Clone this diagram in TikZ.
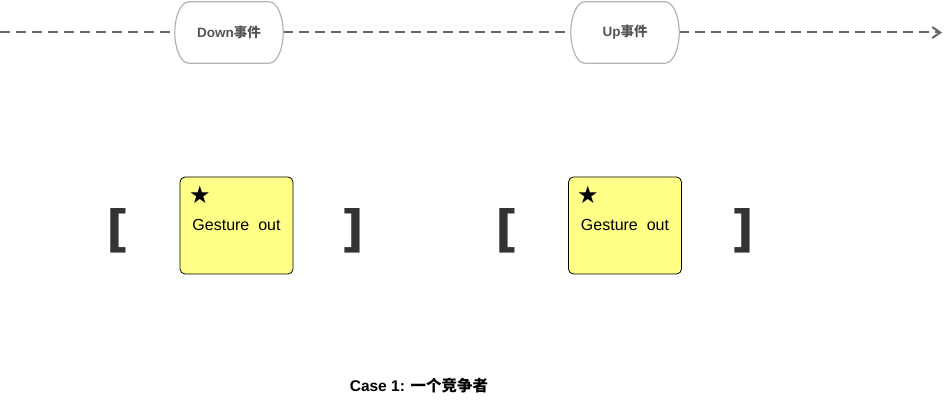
\documentclass[tikz,border=0pt]{standalone}
\usepackage{fontspec}
\setmainfont{Liberation Sans}
\newfontfamily\cjk{Noto Sans CJK SC}
\newfontfamily\symb{DejaVu Sans}
\usetikzlibrary{arrows.meta}
\definecolor{pillgray}{HTML}{B3B3B3}
\definecolor{textgray}{HTML}{555555}
\definecolor{linegray}{HTML}{666666}
\definecolor{notefill}{HTML}{FFFF88}
\definecolor{brackgray}{HTML}{333333}
% outline of an event pill round a named node
\newcommand\eventpill[1]{%
    \draw[draw=pillgray, line width=1.2pt, fill=white]
        ([xshift=14pt]#1.north west) -- ([xshift=-14pt]#1.north east)
        .. controls ([xshift=-6.3pt]#1.north east) and ([yshift=16.8pt]#1.east) .. (#1.east)
        .. controls ([yshift=-16.8pt]#1.east) and ([xshift=-6.3pt]#1.south east) .. ([xshift=-14pt]#1.south east)
        -- ([xshift=14pt]#1.south west)
        .. controls ([xshift=6.3pt]#1.south west) and ([yshift=-16.8pt]#1.west) .. (#1.west)
        .. controls ([yshift=16.8pt]#1.west) and ([xshift=6.3pt]#1.north west) .. ([xshift=14pt]#1.north west)
        -- cycle;}
\begin{document}
\begin{tikzpicture}[x=1pt, y=-1pt,
        event/.style={minimum width=108pt, minimum height=61pt, text=textgray,
            font=\fontsize{13.5}{15}\selectfont\bfseries},
        gesture/.style={draw=black, line width=0.8pt, fill=notefill, rounded corners=5pt,
            minimum width=113pt, minimum height=97pt},
        brack/.style={text=brackgray, font=\symb\fontsize{50}{50}\selectfont\bfseries, inner sep=0pt},
        timeline/.style={dash pattern=on 10pt off 6pt, line width=2pt, draw=linegray}
    ]
        \useasboundingbox (0,0) rectangle (946,403);
        \coordinate (start) at (0,32.5);
        \coordinate (finish) at (942,32.5);
        \node[event] (down) at (229,32.5) {};
        \node[event] (up) at (625,32.5) {};

        \draw[timeline] (start) -- (down);
        \draw[timeline] (down) -- (up);
        \draw[timeline, -{Straight Barb[length=8pt, width=11pt]}] (up) -- (finish);

        \eventpill{down}
        \eventpill{up}
        \node[event] at (down) {Down{\cjk\bfseries 事件}};
        \node[event] at (up) {Up{\cjk\bfseries 事件}};

        % first competitor
        \node[gesture] (gesture1) at (236.5,225.5) {};
        \node[font=\symb\fontsize{24}{24}\selectfont, inner sep=0pt] (star1) at (200,195) {★};
        \node[font=\fontsize{16}{18}\selectfont] (label1) at (236.5,225) {Gesture~~out};
        \node[brack] (open1) at (117.5,231) {[};
        \node[brack] (close1) at (353,231) {]};

        % second competitor
        \node[gesture] (gesture2) at (625,225.5) {};
        \node[font=\symb\fontsize{24}{24}\selectfont, inner sep=0pt] (star2) at (588,195) {★};
        \node[font=\fontsize{16}{18}\selectfont] (label2) at (625,225) {Gesture~~out};
        \node[brack] (open2) at (506.5,231) {[};
        \node[brack] (close2) at (742.5,231) {]};

        \node[font=\fontsize{15.5}{17}\selectfont\bfseries] (caption) at (419,386) {Case 1: {\cjk\bfseries 一个竞争者}};
    \end{tikzpicture}
\end{document}
